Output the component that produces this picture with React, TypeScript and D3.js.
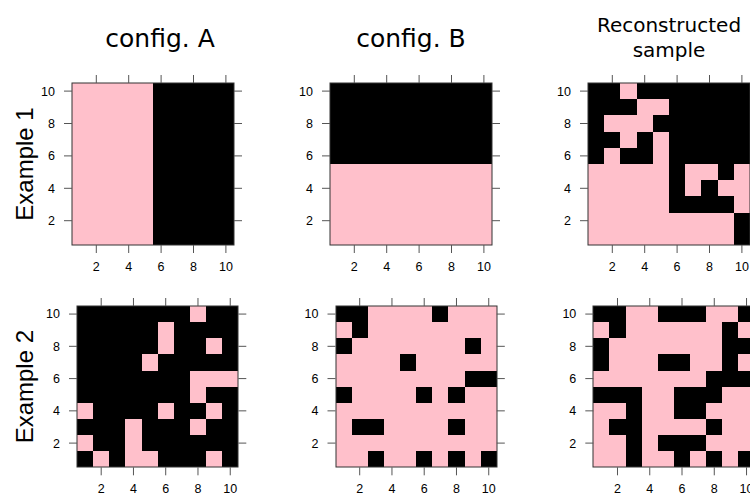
import React from 'react';
import * as d3 from 'd3';

const W = 750;
const H = 495;

// Cell states: 1 = pink, 0 = black. Rows run from y = 10 (top) down to y = 1.
const configA1 = [
  [1, 1, 1, 1, 1, 0, 0, 0, 0, 0],
  [1, 1, 1, 1, 1, 0, 0, 0, 0, 0],
  [1, 1, 1, 1, 1, 0, 0, 0, 0, 0],
  [1, 1, 1, 1, 1, 0, 0, 0, 0, 0],
  [1, 1, 1, 1, 1, 0, 0, 0, 0, 0],
  [1, 1, 1, 1, 1, 0, 0, 0, 0, 0],
  [1, 1, 1, 1, 1, 0, 0, 0, 0, 0],
  [1, 1, 1, 1, 1, 0, 0, 0, 0, 0],
  [1, 1, 1, 1, 1, 0, 0, 0, 0, 0],
  [1, 1, 1, 1, 1, 0, 0, 0, 0, 0],
];

const configB1 = [
  [0, 0, 0, 0, 0, 0, 0, 0, 0, 0],
  [0, 0, 0, 0, 0, 0, 0, 0, 0, 0],
  [0, 0, 0, 0, 0, 0, 0, 0, 0, 0],
  [0, 0, 0, 0, 0, 0, 0, 0, 0, 0],
  [0, 0, 0, 0, 0, 0, 0, 0, 0, 0],
  [1, 1, 1, 1, 1, 1, 1, 1, 1, 1],
  [1, 1, 1, 1, 1, 1, 1, 1, 1, 1],
  [1, 1, 1, 1, 1, 1, 1, 1, 1, 1],
  [1, 1, 1, 1, 1, 1, 1, 1, 1, 1],
  [1, 1, 1, 1, 1, 1, 1, 1, 1, 1],
];

const reconstructed1 = [
  [0, 0, 1, 0, 0, 0, 0, 0, 0, 0],
  [0, 0, 0, 1, 1, 0, 0, 0, 0, 0],
  [0, 1, 1, 1, 0, 0, 0, 0, 0, 0],
  [0, 0, 1, 0, 1, 0, 0, 0, 0, 0],
  [0, 1, 0, 0, 1, 0, 0, 0, 0, 0],
  [1, 1, 1, 1, 1, 0, 1, 1, 0, 1],
  [1, 1, 1, 1, 1, 0, 1, 0, 1, 1],
  [1, 1, 1, 1, 1, 0, 0, 0, 0, 1],
  [1, 1, 1, 1, 1, 1, 1, 1, 1, 0],
  [1, 1, 1, 1, 1, 1, 1, 1, 1, 0],
];

const configA2 = [
  [0, 0, 0, 0, 0, 0, 0, 1, 0, 0],
  [0, 0, 0, 0, 0, 1, 0, 0, 0, 0],
  [0, 0, 0, 0, 0, 1, 0, 0, 1, 0],
  [0, 0, 0, 0, 1, 0, 0, 0, 0, 0],
  [0, 0, 0, 0, 0, 0, 0, 1, 1, 1],
  [0, 0, 0, 0, 0, 0, 0, 1, 0, 0],
  [1, 0, 0, 0, 0, 1, 0, 0, 1, 0],
  [0, 0, 0, 1, 0, 0, 0, 1, 0, 0],
  [1, 0, 0, 1, 0, 0, 0, 0, 0, 0],
  [0, 1, 0, 1, 1, 0, 0, 0, 1, 0],
];

const configB2 = [
  [0, 0, 1, 1, 1, 1, 0, 1, 1, 1],
  [1, 0, 1, 1, 1, 1, 1, 1, 1, 1],
  [0, 1, 1, 1, 1, 1, 1, 1, 0, 1],
  [1, 1, 1, 1, 0, 1, 1, 1, 1, 1],
  [1, 1, 1, 1, 1, 1, 1, 1, 0, 0],
  [0, 1, 1, 1, 1, 0, 1, 0, 1, 1],
  [1, 1, 1, 1, 1, 1, 1, 1, 1, 1],
  [1, 0, 0, 1, 1, 1, 1, 0, 1, 1],
  [1, 1, 1, 1, 1, 1, 1, 1, 1, 1],
  [1, 1, 0, 1, 1, 0, 1, 0, 1, 0],
];

const reconstructed2 = [
  [0, 0, 1, 1, 0, 0, 0, 1, 1, 0],
  [1, 0, 1, 1, 1, 1, 1, 1, 0, 1],
  [0, 1, 1, 1, 1, 1, 1, 1, 0, 0],
  [0, 1, 1, 1, 0, 0, 1, 1, 0, 1],
  [1, 1, 1, 1, 1, 1, 1, 0, 0, 0],
  [0, 0, 0, 1, 1, 0, 0, 0, 1, 1],
  [1, 1, 0, 1, 1, 0, 0, 1, 1, 1],
  [1, 0, 0, 1, 1, 1, 1, 0, 1, 1],
  [1, 1, 0, 1, 0, 0, 0, 1, 1, 1],
  [1, 1, 0, 1, 1, 0, 1, 0, 1, 0],
];

const xTicks = [2, 4, 6, 8, 10];
const yTicks = [2, 4, 6, 8, 10];
const columnTitles = [['config. A'], ['config. B'], ['Reconstructed', 'sample']];
const rowTitles = ['Example 1', 'Example 2'];

const stateColor = ['#000000', '#FFC0CB'];

type PanelProps = {
  grid: number[][];
  x0: number;
  y0: number;
  w: number;
  h: number;
};

function Panel({ grid, x0, y0, w, h }: PanelProps) {
  const n = grid.length;
  const xs = d3.scaleLinear().domain([0.5, n + 0.5]).range([x0, x0 + w]);
  const ys = d3.scaleLinear().domain([0.5, n + 0.5]).range([y0 + h, y0]);
  const tickLen = 8;
  const tickColor = '#555';
  const cells: React.ReactNode[] = [];
  grid.forEach((row, i) => {
    const yv = n - i;
    row.forEach((v, j) => {
      const xv = j + 1;
      // snap cell edges to whole pixels so neighbouring cells tile without seams
      const left = Math.round(xs(xv - 0.5));
      const right = Math.round(xs(xv + 0.5));
      const top = Math.round(ys(yv + 0.5));
      const bottom = Math.round(ys(yv - 0.5));
      cells.push(
        <rect
          key={`${i}-${j}`}
          x={left}
          y={top}
          width={right - left}
          height={bottom - top}
          fill={stateColor[v]}
          shapeRendering="crispEdges"
        />
      );
    });
  });
  const fx = Math.round(x0) + 0.5;
  const fy = Math.round(y0) + 0.5;
  const fw = Math.round(x0 + w) - Math.round(x0);
  const fh = Math.round(y0 + h) - Math.round(y0);
  return (
    <g>
      {cells}
      <rect x={fx - 0.5} y={fy - 0.5} width={fw} height={fh} fill="none" stroke="#333" strokeWidth={1} />
      {xTicks.map((t) => (
        <g key={`x${t}`}>
          <line x1={xs(t)} x2={xs(t)} y1={y0 + h} y2={y0 + h + tickLen} stroke={tickColor} />
          <line x1={xs(t)} x2={xs(t)} y1={y0} y2={y0 - tickLen} stroke={tickColor} />
          <text
            x={xs(t)}
            y={y0 + h + 26}
            textAnchor="middle"
            fontFamily="Liberation Sans, Arial, sans-serif"
            fontSize={12.5}
            fill="#000"
          >
            {t}
          </text>
        </g>
      ))}
      {yTicks.map((t) => (
        <g key={`y${t}`}>
          <line x1={x0 - tickLen} x2={x0} y1={ys(t)} y2={ys(t)} stroke={tickColor} />
          <line x1={x0 + w} x2={x0 + w + tickLen} y1={ys(t)} y2={ys(t)} stroke={tickColor} />
          <text
            x={x0 - 17}
            y={ys(t) + 4.4}
            textAnchor="end"
            fontFamily="Liberation Sans, Arial, sans-serif"
            fontSize={12.5}
            fill="#000"
          >
            {t}
          </text>
        </g>
      ))}
    </g>
  );
}

export default function App() {
  const rows = [
    { grids: [configA1, configB1, reconstructed1], xs: [72, 330, 588], y0: 83, size: 162 },
    { grids: [configA2, configB2, reconstructed2], xs: [77, 335.5, 593.3], y0: 306, size: 161.3 },
  ];
  const titleCenters = [160, 411, 669];
  return (
    <svg
      width={W}
      height={H}
      viewBox={`0 0 ${W} ${H}`}
      style={{ position: 'absolute', left: 0, top: 0, background: '#fff' }}
    >
      <rect x={0} y={0} width={W} height={H} fill="#fff" />
      {rows.map((r, ri) =>
        r.grids.map((g, ci) => (
          <Panel key={`${ri}-${ci}`} grid={g} x0={r.xs[ci]} y0={r.y0} w={r.size} h={r.size} />
        ))
      )}
      {columnTitles.map((lines, i) =>
        lines.length === 1 ? (
          <text
            key={`t${i}`}
            x={titleCenters[i]}
            y={47}
            textAnchor="middle"
            fontFamily="DejaVu Sans, Verdana, sans-serif"
            fontSize={25}
            fill="#000"
          >
            {lines[0]}
          </text>
        ) : (
          <text
            key={`t${i}`}
            textAnchor="middle"
            fontFamily="DejaVu Sans, Verdana, sans-serif"
            fontSize={20}
            fill="#000"
          >
            {lines.map((l, k) => (
              <tspan key={k} x={titleCenters[i]} y={32 + k * 25}>
                {l}
              </tspan>
            ))}
          </text>
        )
      )}
      {rowTitles.map((t, i) => {
        const r = rows[i];
        const cy = r.y0 + r.size / 2;
        return (
          <text
            key={`r${i}`}
            transform={`translate(33, ${cy}) rotate(-90)`}
            textAnchor="middle"
            fontFamily="Liberation Sans, Arial, sans-serif"
            fontSize={24}
            fill="#000"
          >
            {t}
          </text>
        );
      })}
    </svg>
  );
}
